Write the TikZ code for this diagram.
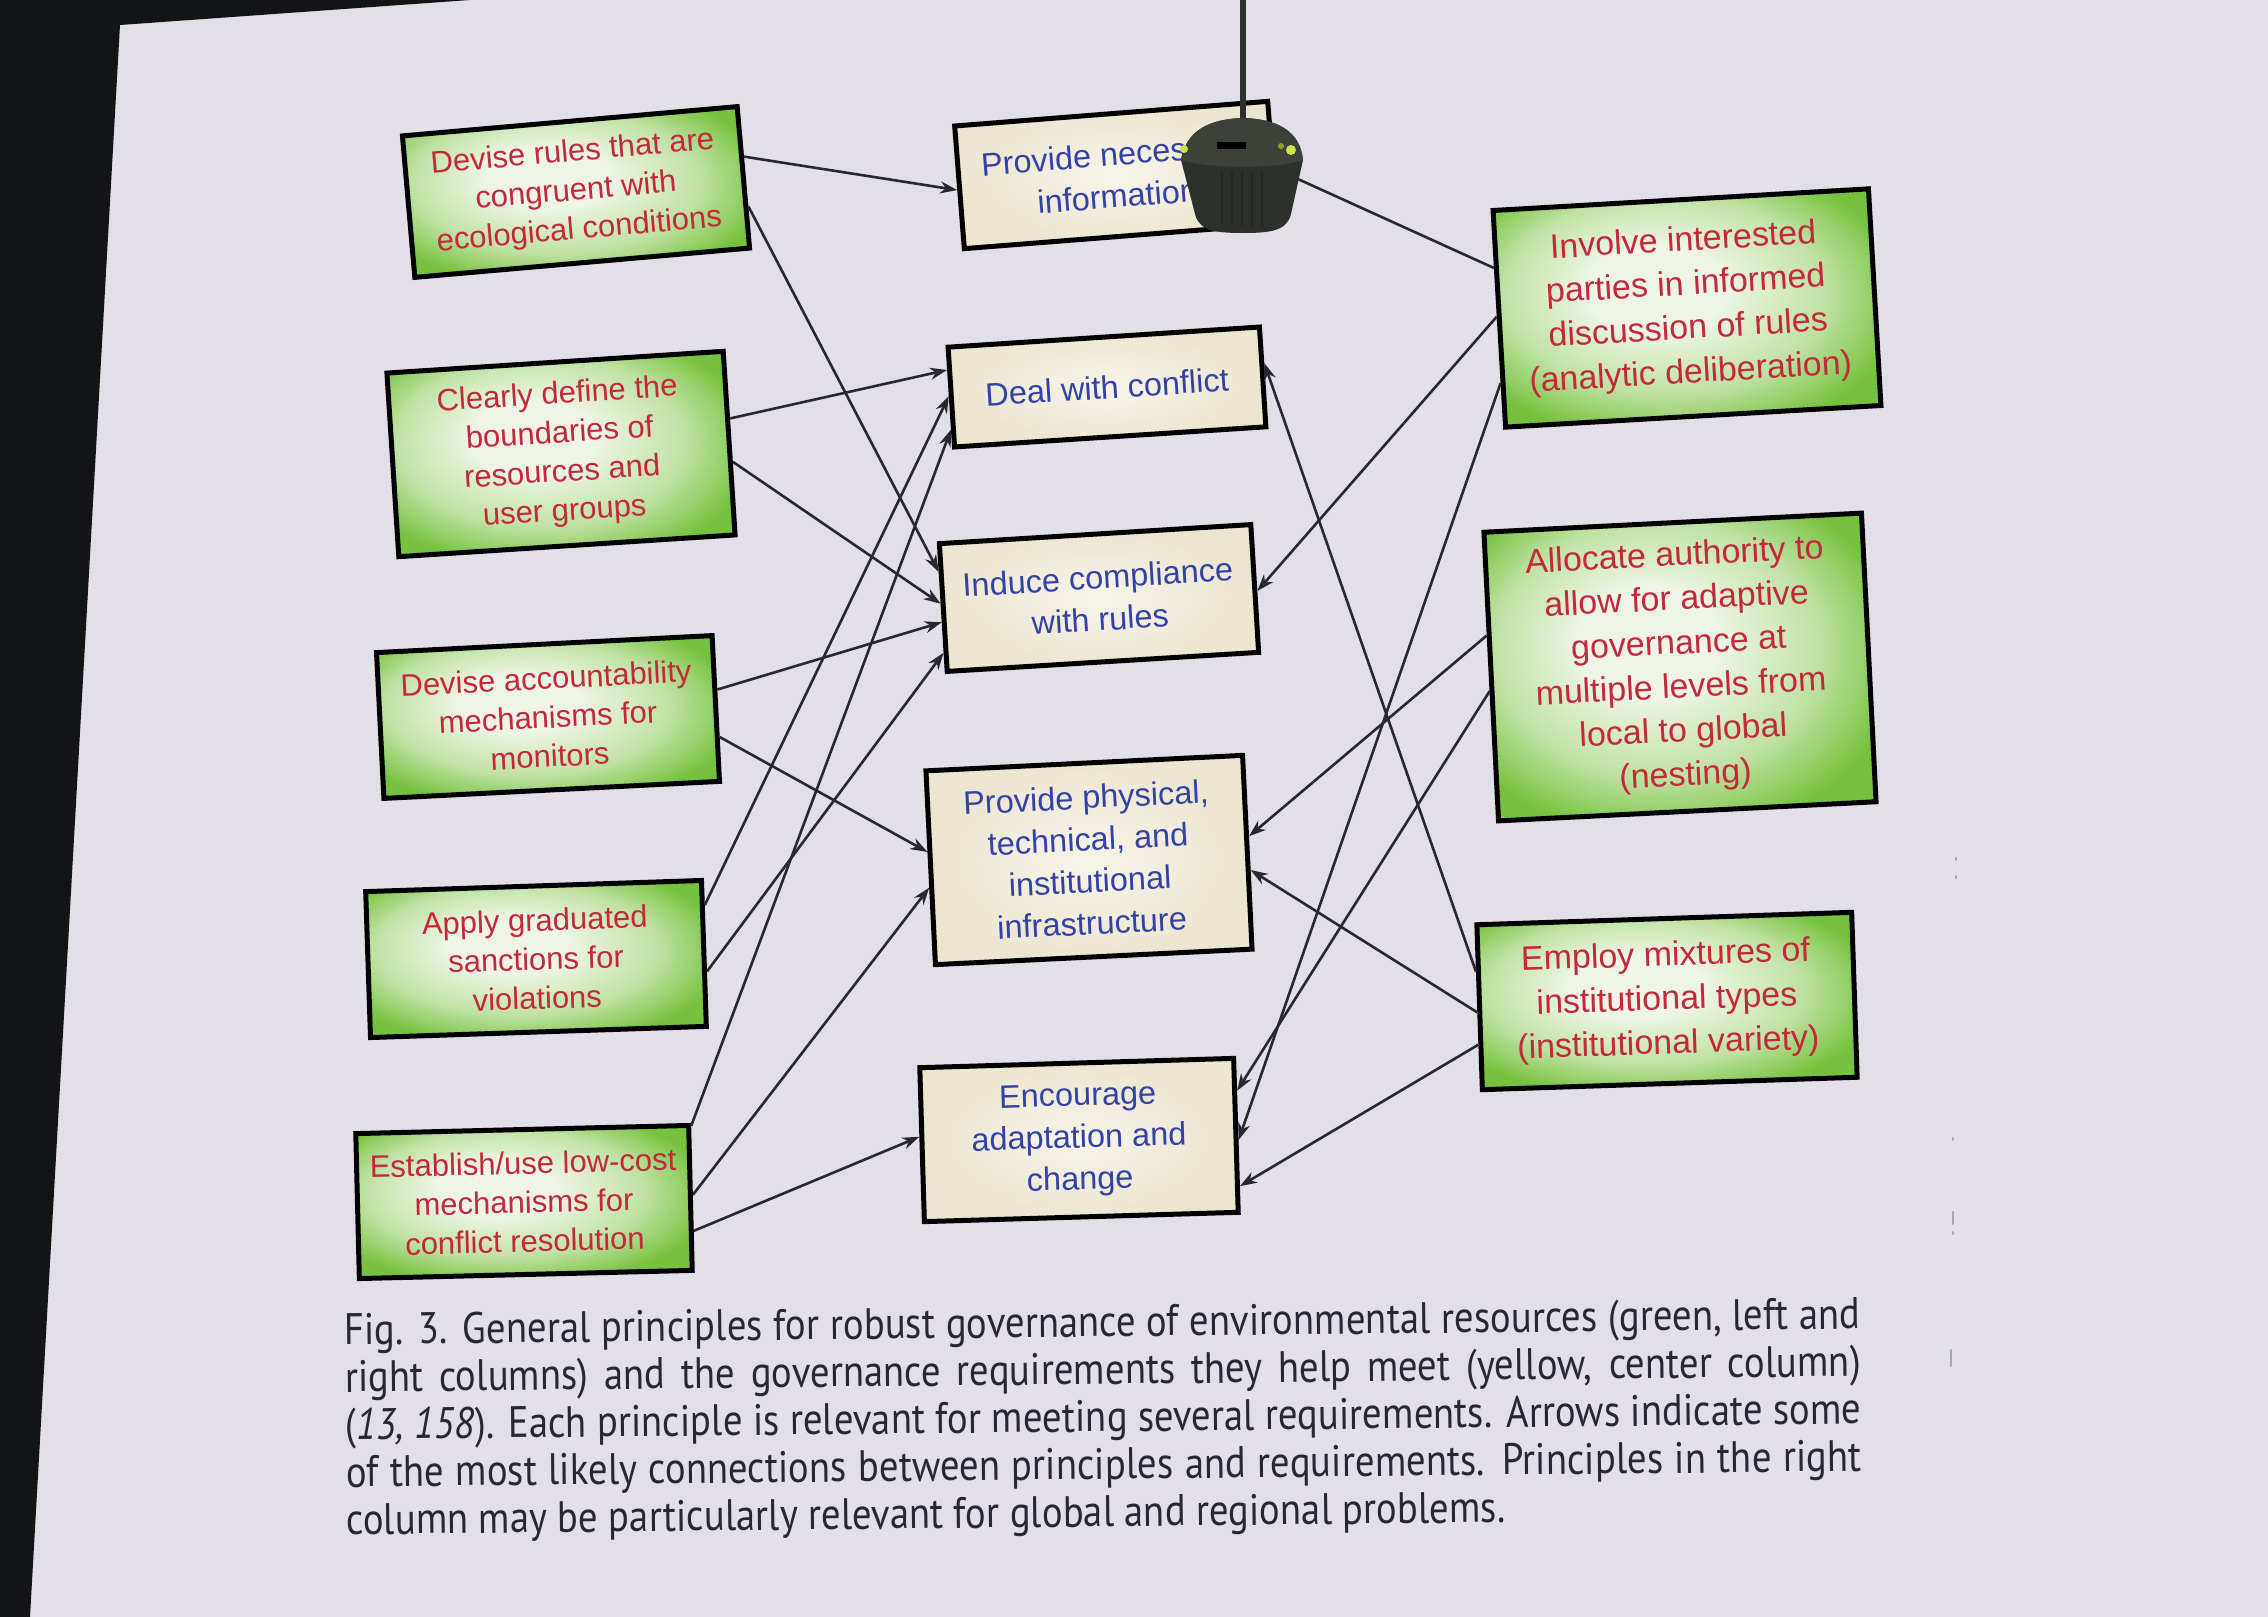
\documentclass[tikz,border=0pt]{standalone}
\usepackage{fontspec}
\setmainfont{Liberation Sans}
\newfontfamily\capfont[FakeStretch=0.88]{PT Sans}
\usetikzlibrary{arrows.meta,calc}
\definecolor{slide}{RGB}{227,223,233}
\definecolor{frame}{RGB}{18,20,22}
\definecolor{gin}{RGB}{238,245,230}
\definecolor{gmid}{RGB}{190,225,160}
\definecolor{gout}{RGB}{118,194,62}
\definecolor{cin}{RGB}{247,244,234}
\definecolor{cout}{RGB}{236,229,207}
\definecolor{redtxt}{RGB}{196,40,58}
\definecolor{bluetxt}{RGB}{52,66,168}
\definecolor{linec}{RGB}{40,40,46}
\definecolor{captxt}{RGB}{40,40,52}
\definecolor{micbody}{RGB}{44,49,44}
\definecolor{miccap}{RGB}{60,66,58}
\definecolor{led}{RGB}{205,228,70}
\pgfdeclareradialshading{gshade}{\pgfpoint{-5bp}{5bp}}{color(0bp)=(gin); color(9bp)=(gin); color(21bp)=(gmid); color(30bp)=(gout); color(50bp)=(gout)}
\tikzset{
  box/.style={draw=black, line width=5pt, align=center, inner sep=0pt},
  gbox/.style={box, shading=gshade, text=redtxt, font=\fontsize{31}{39}\selectfont},
  rbox/.style={gbox, font=\fontsize{34}{44}\selectfont},
  cbox/.style={box, inner color=cin, outer color=cout, text=bluetxt, font=\fontsize{32.5}{42}\selectfont},
  conn/.style={draw=linec, line width=2.6pt, -{Stealth[length=17pt,width=12pt]}},
  speck/.style={draw=black!35, line width=2.5pt, line cap=round}
}
\begin{document}
\begin{tikzpicture}[x=1pt,y=-1pt]
\useasboundingbox (0,0) rectangle (2268,1617);
\fill[slide] (0,0) rectangle (2268,1617);
\fill[frame] (0,0) -- (470,0) -- (120,25) -- (30,1617) -- (0,1617) -- cycle;

% left column
\node[gbox, rotate=5,   minimum width=336pt, minimum height=142pt] (L1) at (576,192) {Devise rules that are\\congruent with\\ecological conditions};
\node[gbox, rotate=3.7, minimum width=337pt, minimum height=184pt] (L2) at (561,454) {Clearly define the\\boundaries of\\resources and\\user groups};
\node[gbox, rotate=2.9, minimum width=336pt, minimum height=146pt] (L3) at (548,717) {Devise accountability\\mechanisms for\\monitors};
\node[gbox, rotate=1.9, minimum width=336pt, minimum height=146pt] (L4) at (536,959) {Apply graduated\\sanctions for\\violations};
\node[gbox, rotate=1.4, minimum width=333pt, minimum height=145pt] (L5) at (524,1202) {Establish/use low-cost\\mechanisms for\\conflict resolution};

% center column
\node[cbox, rotate=4.5, minimum width=314pt, minimum height=123pt] (C1) at (1116,175) {Provide necessary\\information};
\node[cbox, rotate=3.7, minimum width=312pt, minimum height=100pt] (C2) at (1107,387) {Deal with conflict};
\node[cbox, rotate=3.5, minimum width=312pt, minimum height=128pt] (C3) at (1099,598) {Induce compliance\\with rules};
\node[cbox, rotate=2.8, minimum width=317pt, minimum height=194pt] (C4) at (1089,860) {Provide physical,\\technical, and\\institutional\\infrastructure};
\node[cbox, rotate=1.7, minimum width=314pt, minimum height=154pt] (C5) at (1079,1140) {Encourage\\adaptation and\\change};

% right column
\node[rbox, rotate=3.3, minimum width=376pt, minimum height=217pt] (R1) at (1687,308) {Involve interested\\parties in informed\\discussion of rules\\(analytic deliberation)};
\node[rbox, rotate=2.9, minimum width=378pt, minimum height=289pt] (R2) at (1680,667) {Allocate authority to\\allow for adaptive\\governance at\\multiple levels from\\local to global\\(nesting)};
\node[rbox, rotate=1.9, minimum width=375pt, minimum height=165pt] (R3) at (1667,1001) {Employ mixtures of\\institutional types\\(institutional variety)};

% attachment points
\path (L1.north east) -- (L1.south east) coordinate[pos=.36] (L1a) coordinate[pos=.70] (L1b);
\path (L2.north east) -- (L2.south east) coordinate[pos=.37] (L2a) coordinate[pos=.60] (L2b);
\path (L3.north east) -- (L3.south east) coordinate[pos=.375] (L3a) coordinate[pos=.69] (L3b);
\path (L4.north east) -- (L4.south east) coordinate[pos=.18] (L4a) coordinate[pos=.62] (L4b);
\path (L5.north east) -- (L5.south east) coordinate[pos=.02] (L5a) coordinate[pos=.48] (L5b) coordinate[pos=.72] (L5c);

\path (C1.north west) -- (C1.south west) coordinate[pos=.52] (C1w);
\path (C1.north east) -- (C1.south east) coordinate[pos=.55] (C1e);
\path (C2.north west) -- (C2.south west) coordinate[pos=.24] (C2wa) coordinate[pos=.49] (C2wb) coordinate[pos=.81] (C2wc);
\path (C2.north east) -- (C2.south east) coordinate[pos=.37] (C2e);
\path (C3.north west) -- (C3.south west) coordinate[pos=.23] (C3wa) coordinate[pos=.47] (C3wb) coordinate[pos=.61] (C3wc) coordinate[pos=.84] (C3wd);
\path (C3.north east) -- (C3.south east) coordinate[pos=.52] (C3e);
\path (C4.north west) -- (C4.south west) coordinate[pos=.42] (C4wa) coordinate[pos=.60] (C4wb);
\path (C4.north east) -- (C4.south east) coordinate[pos=.42] (C4ea) coordinate[pos=.59] (C4eb);
\path (C5.north west) -- (C5.south west) coordinate[pos=.45] (C5w);
\path (C5.north east) -- (C5.south east) coordinate[pos=.22] (C5ea) coordinate[pos=.53] (C5eb) coordinate[pos=.82] (C5ec);

\path (R1.north west) -- (R1.south west) coordinate[pos=.27] (R1a) coordinate[pos=.49] (R1b) coordinate[pos=.79] (R1c);
\path (R2.north west) -- (R2.south west) coordinate[pos=.36] (R2a) coordinate[pos=.55] (R2b);
\path (R3.north west) -- (R3.south west) coordinate[pos=.29] (R3a) coordinate[pos=.53] (R3b) coordinate[pos=.72] (R3c);

% connectors from the left column
\draw[conn] (L1a) -- (C1w);
\draw[conn] (L1b) -- (C3wa);
\draw[conn] (L2a) -- (C2wa);
\draw[conn] (L2b) -- (C3wb);
\draw[conn] (L3a) -- (C3wc);
\draw[conn] (L3b) -- (C4wa);
\draw[conn] (L4a) -- (C2wb);
\draw[conn] (L4b) -- (C3wd);
\draw[conn] (L5a) -- (C2wc);
\draw[conn] (L5b) -- (C4wb);
\draw[conn] (L5c) -- (C5w);

% connectors from the right column
\draw[conn] (R1a) -- (C1e);
\draw[conn] (R1b) -- (C3e);
\draw[conn] (R1c) -- (C5eb);
\draw[conn] (R2a) -- (C4ea);
\draw[conn] (R2b) -- (C5ea);
\draw[conn] (R3a) -- (C2e);
\draw[conn] (R3b) -- (C4eb);
\draw[conn] (R3c) -- (C5ec);

% microphone hanging in front of the screen
\draw[micbody, line width=6pt] (1243,0) -- (1243,124);
\fill[micbody] (1181,160) .. controls (1186,130) and (1210,119) .. (1243,118) .. controls (1276,119) and (1300,130) .. (1303,160) -- (1291,214) .. controls (1287,231) and (1270,233) .. (1243,233) .. controls (1216,233) and (1199,231) .. (1195,214) -- cycle;
\fill[miccap] (1181,160) .. controls (1186,130) and (1210,119) .. (1243,118) .. controls (1276,119) and (1300,130) .. (1303,160) .. controls (1280,169) and (1206,169) .. (1181,160) -- cycle;
\foreach \gx in {1222,1232,1242,1252,1262} {\draw[black!85, line width=1.5pt] (\gx,172) -- (\gx,226);}
\fill[black] (1217,142) rectangle (1246,149);
\fill[led] (1184,149) circle (4);
\fill[led] (1291,150) circle (5);
\fill[led!70!black] (1281,146) circle (3);

% small specks at the right of the screen
\draw[speck] (1956,858) -- (1956,860);
\draw[speck] (1956,876) -- (1956,878);
\draw[speck] (1953,1138) -- (1953,1140);
\draw[speck] (1953,1212) -- (1953,1224);
\draw[speck] (1953,1232) -- (1953,1234);
\draw[speck] (1951,1350) -- (1951,1366);

% caption
\node[anchor=north west, inner sep=0pt, text width=1516pt, align=justify, text=captxt,
      font=\capfont\fontsize{44}{47.5}\selectfont, rotate=0.6] (cap) at (344,1313)
 {Fig. 3. General principles for robust governance of environmental resources (green, left and\linebreak
  right columns) and the governance requirements they help meet (yellow, center column)\linebreak
  (\textit{13, 158}). Each principle is relevant for meeting several requirements. Arrows indicate some\linebreak
  of the most likely connections between principles and requirements. Principles in the right\linebreak
  column may be particularly relevant for global and regional problems.};
\end{tikzpicture}
\end{document}
